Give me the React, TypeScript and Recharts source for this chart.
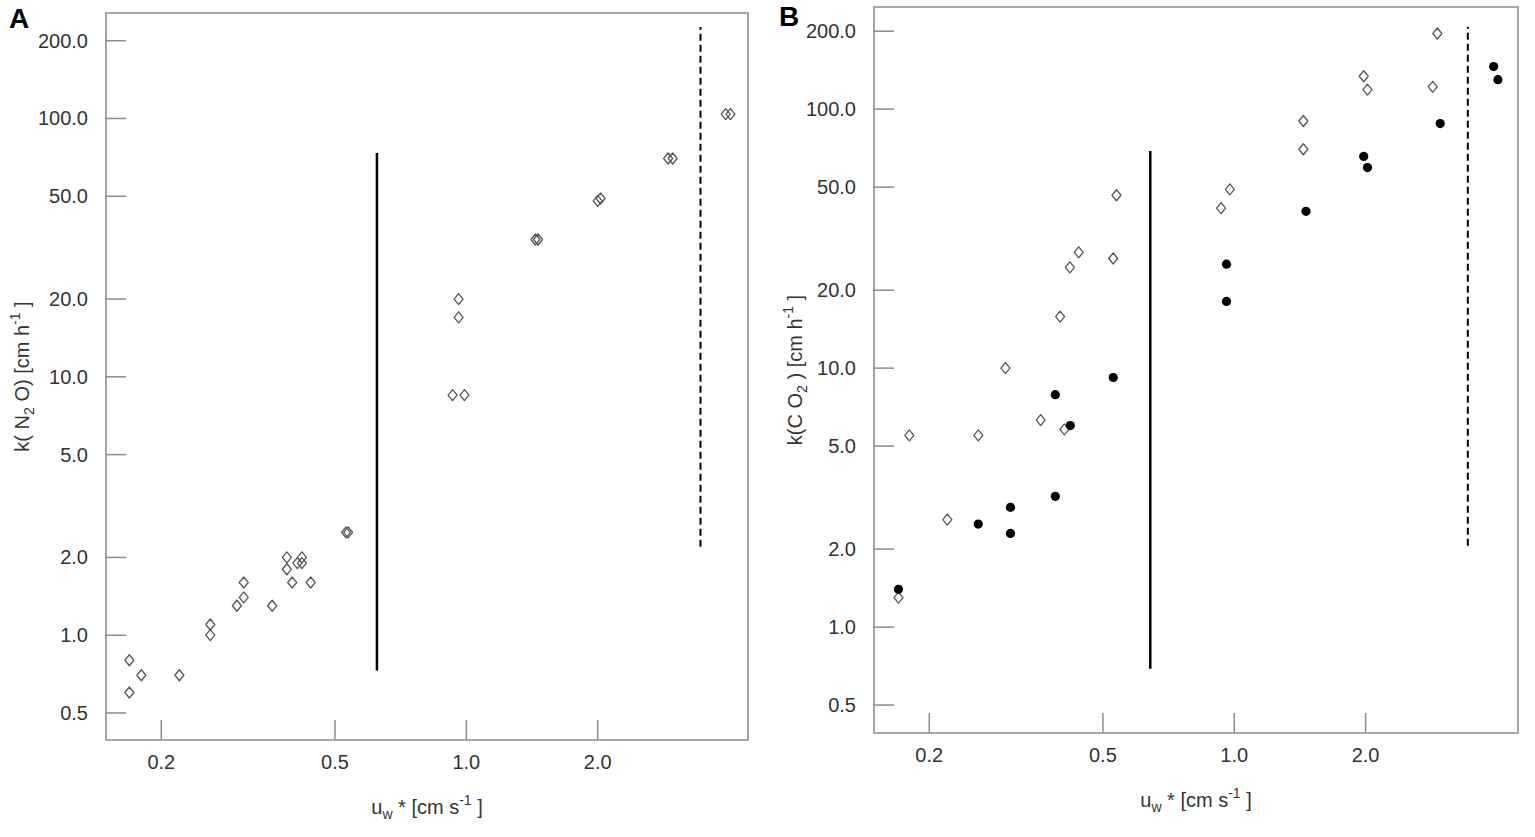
import React from "react";
import {
  ReferenceArea,
  ReferenceLine,
  Scatter,
  ScatterChart,
  XAxis,
  YAxis,
} from "recharts";

// Panel A: k(N2O) vs u_w*
const aX = [
  0.169, 0.169, 0.18, 0.22, 0.259, 0.259, 0.298, 0.309, 0.309, 0.359, 0.388, 0.388,
  0.399, 0.41, 0.42, 0.42, 0.44, 0.53, 0.536, 0.93, 0.99, 0.96, 0.96, 1.44, 1.46,
  2.0, 2.03, 2.9, 2.97, 3.93, 4.03,
];
const aY = [
  0.8, 0.6, 0.7, 0.7, 1.1, 1.0, 1.3, 1.4, 1.6, 1.3, 2.0, 1.8, 1.6, 1.9, 1.9, 2.0,
  1.6, 2.5, 2.5, 8.5, 8.5, 20, 17, 34, 34, 48, 49, 70, 70, 104, 104,
];

// Panel B: k(CO2) vs u_w*, open and filled symbols
const bOpenX = [
  0.17, 0.18, 0.22, 0.259, 0.299, 0.36, 0.399, 0.408, 0.42, 0.44, 0.528, 0.537,
  0.933, 0.977, 1.44, 1.44, 1.98, 2.02, 2.85, 2.92,
];
const bOpenY = [
  1.3, 5.5, 2.6, 5.5, 10.0, 6.3, 15.8, 5.8, 24.5, 28, 26.5, 46.5, 41.5, 49, 70, 90,
  134, 119, 122, 196,
];
const bFilledX = [
  0.17, 0.259, 0.307, 0.307, 0.389, 0.389, 0.421, 0.528, 0.96, 0.96, 1.46, 1.98,
  2.02, 2.965, 3.93, 4.02,
];
const bFilledY = [
  1.4, 2.5, 2.9, 2.3, 3.2, 7.9, 6.0, 9.2, 18.1, 25.2, 40.3, 65.7, 59.5, 88, 146, 130,
];

// vertical marker lines: [x, yLow, yHigh]
const aSolid = [0.624, 0.73, 73.5];
const aDashed = [3.44, 2.2, 226];
const bSolid = [0.642, 0.69, 69];
const bDashed = [3.43, 2.06, 208];

const xTicks = [0.2, 0.5, 1, 2];
const yTicks = [0.5, 1, 2, 5, 10, 20, 50, 100, 200];

const aXDomain = [0.1494, 4.42];
const aYDomain = [0.393, 256];
const bXDomain = [0.1494, 4.47];
const bYDomain = [0.39, 248];

const toPoints = (xs: number[], ys: number[]) => xs.map((x, i) => ({ x, y: ys[i] }));

const FONT = "'Liberation Sans', Arial, sans-serif";
const TEXT = "#333";
const FRAME = "#8c8c8c";

const Y_MARGIN = 18;
const X_MARGIN = 22;
const TICK_LEN = 20;

function YTick(props: any) {
  const { x, y, payload } = props;
  const axisX = x + Y_MARGIN;
  return (
    <g>
      <line x1={axisX} x2={axisX + TICK_LEN} y1={y} y2={y} stroke={FRAME} strokeWidth={1.5} />
      <text x={x} y={y} dy="0.35em" textAnchor="end" fill={TEXT} fontSize={20} fontFamily={FONT}>
        {Number(payload.value).toFixed(1)}
      </text>
    </g>
  );
}

function XTick(props: any) {
  const { x, y, payload } = props;
  const axisY = y - X_MARGIN;
  return (
    <g>
      <line x1={x} x2={x} y1={axisY} y2={axisY - TICK_LEN} stroke={FRAME} strokeWidth={1.5} />
      <text x={x} y={y} dy="0.35em" textAnchor="middle" fill={TEXT} fontSize={20} fontFamily={FONT}>
        {Number(payload.value).toFixed(1)}
      </text>
    </g>
  );
}

function OpenDiamond(props: any) {
  const { cx, cy } = props;
  if (cx == null || cy == null) return null;
  return (
    <path
      d={`M${cx},${cy - 5.5} L${cx + 4.5},${cy} L${cx},${cy + 5.5} L${cx - 4.5},${cy} Z`}
      fill="none"
      stroke="#555"
      strokeWidth={1.3}
      strokeLinejoin="round"
    />
  );
}

function FilledDot(props: any) {
  const { cx, cy } = props;
  if (cx == null || cy == null) return null;
  return <circle cx={cx} cy={cy} r={4.6} fill="#000" />;
}

function XLabel({ viewBox }: any) {
  const cx = viewBox.x + viewBox.width / 2;
  const cy = viewBox.y + 67;
  return (
    <text x={cx} y={cy} dy="0.35em" textAnchor="middle" fill={TEXT} fontSize={20} fontFamily={FONT}>
      u<tspan fontSize={14} dy={5}>w</tspan>
      <tspan dy={-5}> * [cm s</tspan>
      <tspan fontSize={14} dy={-9}>-1</tspan>
      <tspan dy={9}> ]</tspan>
    </text>
  );
}

function YLabel({ viewBox, gas, cx }: any) {
  const cy = viewBox.y + viewBox.height / 2;
  return (
    <text
      x={cx}
      y={cy}
      dy="0.35em"
      textAnchor="middle"
      fill={TEXT}
      fontSize={20}
      fontFamily={FONT}
      transform={`rotate(-90 ${cx} ${cy})`}
    >
      {gas === "N2O" ? (
        <>
          <tspan>k( N</tspan>
          <tspan fontSize={14} dy={5}>2</tspan>
          <tspan dy={-5}> O) [cm h</tspan>
        </>
      ) : (
        <>
          <tspan>k(C O</tspan>
          <tspan fontSize={14} dy={5}>2</tspan>
          <tspan dy={-5}> ) [cm h</tspan>
        </>
      )}
      <tspan fontSize={14} dy={-9}>-1</tspan>
      <tspan dy={9}> ]</tspan>
    </text>
  );
}

type PanelProps = {
  left: number;
  width: number;
  margin: { top: number; right: number; bottom: number; left: number };
  yAxisWidth: number;
  xDomain: number[];
  yDomain: number[];
  solid: number[];
  dashed: number[];
  gas: string;
  labelX: number;
  children: React.ReactNode;
};

function Panel({
  left,
  width,
  margin,
  yAxisWidth,
  xDomain,
  yDomain,
  solid,
  dashed,
  gas,
  labelX,
  children,
}: PanelProps) {
  return (
    <div style={{ position: "absolute", left, top: 0 }}>
      <ScatterChart width={width} height={837} margin={margin}>
        <XAxis
          type="number"
          dataKey="x"
          scale="log"
          domain={xDomain}
          allowDataOverflow
          ticks={xTicks}
          tick={<XTick />}
          tickSize={0}
          tickMargin={X_MARGIN}
          axisLine={false}
          tickLine={false}
          height={60}
          label={<XLabel />}
        />
        <YAxis
          type="number"
          dataKey="y"
          scale="log"
          domain={yDomain}
          allowDataOverflow
          ticks={yTicks}
          tick={<YTick />}
          tickSize={0}
          tickMargin={Y_MARGIN}
          axisLine={false}
          tickLine={false}
          width={yAxisWidth}
          label={<YLabel gas={gas} cx={labelX} />}
        />
        <ReferenceArea
          x1={xDomain[0]}
          x2={xDomain[1]}
          y1={yDomain[0]}
          y2={yDomain[1]}
          fill="none"
          fillOpacity={0}
          stroke={FRAME}
          strokeWidth={1.6}
          ifOverflow="visible"
        />
        <ReferenceLine
          segment={[
            { x: solid[0], y: solid[1] },
            { x: solid[0], y: solid[2] },
          ]}
          stroke="#000"
          strokeWidth={2.5}
        />
        <ReferenceLine
          segment={[
            { x: dashed[0], y: dashed[1] },
            { x: dashed[0], y: dashed[2] },
          ]}
          stroke="#000"
          strokeWidth={2}
          strokeDasharray="7 4"
        />
        {children}
      </ScatterChart>
    </div>
  );
}

export default function App() {
  return (
    <div
      style={{
        position: "absolute",
        left: 0,
        top: 0,
        width: 1535,
        height: 837,
        background: "#fff",
        overflow: "hidden",
      }}
    >
      <Panel
        left={0}
        width={760}
        margin={{ top: 13, right: 12, bottom: 37, left: 0 }}
        yAxisWidth={106}
        xDomain={aXDomain}
        yDomain={aYDomain}
        solid={aSolid}
        dashed={aDashed}
        gas="N2O"
        labelX={22}
      >
        <Scatter data={toPoints(aX, aY)} shape={<OpenDiamond />} isAnimationActive={false} />
      </Panel>
      <Panel
        left={770}
        width={765}
        margin={{ top: 7, right: 17, bottom: 44, left: 0 }}
        yAxisWidth={104}
        xDomain={bXDomain}
        yDomain={bYDomain}
        solid={bSolid}
        dashed={bDashed}
        gas="CO2"
        labelX={25}
      >
        <Scatter data={toPoints(bOpenX, bOpenY)} shape={<OpenDiamond />} isAnimationActive={false} />
        <Scatter data={toPoints(bFilledX, bFilledY)} shape={<FilledDot />} isAnimationActive={false} />
      </Panel>
      <div
        style={{
          position: "absolute",
          left: 9,
          top: 3,
          fontFamily: FONT,
          fontWeight: "bold",
          fontSize: 28,
          lineHeight: "32px",
          color: "#000",
        }}
      >
        A
      </div>
      <div
        style={{
          position: "absolute",
          left: 779,
          top: 1,
          fontFamily: FONT,
          fontWeight: "bold",
          fontSize: 28,
          lineHeight: "32px",
          color: "#000",
        }}
      >
        B
      </div>
    </div>
  );
}
